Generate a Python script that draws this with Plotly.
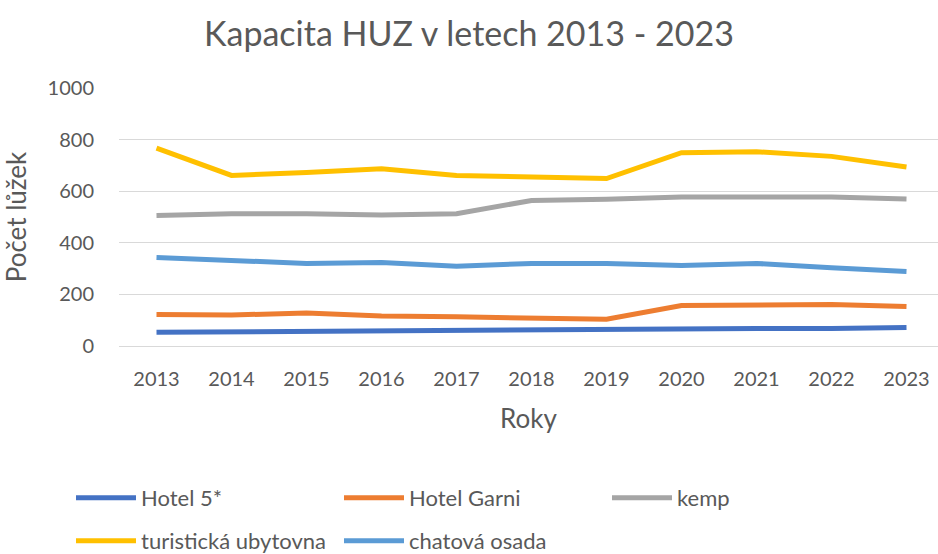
import plotly.graph_objects as go

years = ["2013", "2014", "2015", "2016", "2017", "2018", "2019", "2020", "2021", "2022", "2023"]
hotel5 = [53, 55, 58, 62, 62, 62, 66, 68, 68, 68, 72]
hotel_garni = [122, 120, 128, 116, 113, 108, 104, 157, 157, 161, 153]
kemp = [506, 513, 513, 508, 513, 564, 569, 578, 578, 578, 570]
turisticka = [767, 661, 672, 687, 661, 655, 649, 749, 753, 735, 694]
chatova = [343, 333, 320, 324, 309, 320, 320, 312, 320, 303, 289]

series_names = ["Hotel 5*", "Hotel Garni", "kemp", "turistická ubytovna", "chatová osada"]
series_values = [hotel5, hotel_garni, kemp, turisticka, chatova]
colors = ["#4472C4", "#ED7D31", "#A5A5A5", "#FFC000", "#5B9BD5"]
legend_ids = ["legend", "legend", "legend", "legend2", "legend2"]

FONT = "Lato"
TXT = "#595959"

fig = go.Figure()
for name, vals, col, lg in zip(series_names, series_values, colors, legend_ids):
    fig.add_trace(go.Scatter(
        x=years, y=vals, name=name, mode="lines",
        line=dict(color=col, width=5),
        legend=lg,
    ))

legend_common = dict(
    orientation="h", xanchor="left", yanchor="middle",
    font=dict(family=FONT, size=22, color=TXT),
    itemwidth=60,
    entrywidth=193, entrywidthmode="pixels",
    bgcolor="rgba(0,0,0,0)", borderwidth=0,
    xref="container", yref="container",
)

fig.update_layout(
    width=938, height=554,
    margin=dict(l=119, r=0, t=88, b=208),
    paper_bgcolor="white", plot_bgcolor="white",
    font=dict(family=FONT, color=TXT),
    title=dict(
        text="Kapacita HUZ v letech 2013 - 2023",
        font=dict(family=FONT, size=34, color=TXT),
        x=0.5, xanchor="center", xref="container",
        y=1 - 34 / 554, yanchor="middle", yref="container",
    ),
    xaxis=dict(
        type="category", range=[-0.5, 10.42],
        showgrid=False, zeroline=False, showline=False,
        tickfont=dict(family=FONT, size=20, color=TXT),
        ticks="", ticklabelstandoff=19,
        title=dict(text="Roky", font=dict(family=FONT, size=26, color=TXT), standoff=20),
    ),
    yaxis=dict(
        range=[0, 1000], dtick=200,
        showgrid=True, gridcolor="#D9D9D9", gridwidth=1,
        zeroline=True, zerolinecolor="#D9D9D9", zerolinewidth=1,
        showline=False, ticks="", ticklabelstandoff=24,
        tickfont=dict(family=FONT, size=20, color=TXT),
        title=dict(text="Počet lůžek", font=dict(family=FONT, size=26, color=TXT), standoff=14),
    ),
    legend=dict(**legend_common, x=71 / 938, y=1 - 498 / 554),
    legend2=dict(**legend_common, x=71 / 938, y=1 - 541 / 554),
    showlegend=True,
)

fig.write_html(
    "out.html",
    config={"displayModeBar": False},
    post_script="document.body.style.margin='0px';",
)
